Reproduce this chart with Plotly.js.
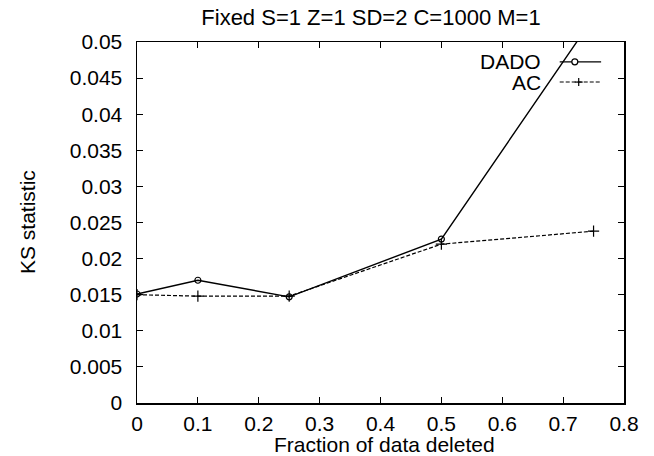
<!DOCTYPE html>
<html>
<head>
<meta charset="utf-8">
<script src="https://cdn.plot.ly/plotly-3.0.1.min.js"></script>
<style>html,body{margin:0;padding:0;background:#fff;}#chart{width:654px;height:456px;}</style>
</head>
<body>
<div id="chart"></div>
<script>
const fractions = [0, 0.1, 0.25, 0.5, 0.75];
const dadoKS = [0.0151, 0.0170, 0.0147, 0.0227, 0.0534];
const acKS = [0.0150, 0.0148, 0.0148, 0.0220, 0.0238];
const xTicks = [0, 0.1, 0.2, 0.3, 0.4, 0.5, 0.6, 0.7, 0.8];
const yTicks = [0, 0.005, 0.01, 0.015, 0.02, 0.025, 0.03, 0.035, 0.04, 0.045, 0.05];
const seriesNames = ['DADO', 'AC'];
const chartTitle = 'Fixed S=1 Z=1 SD=2 C=1000 M=1';
const xTitle = 'Fraction of data deleted';
const yTitle = 'KS statistic';

const font = 'Liberation Sans, Arial, Helvetica, sans-serif';

const traces = [
  {x: fractions, y: dadoKS, name: seriesNames[0], mode: 'lines+markers',
   line: {color: '#000', width: 1.4},
   marker: {symbol: 'circle-open', size: 6, color: '#000', line: {width: 1.2}},
   cliponaxis: true},
  {x: fractions, y: acKS, name: seriesNames[1], mode: 'lines+markers',
   line: {color: '#000', width: 1.2, dash: '4px,2px'},
   marker: {symbol: 'cross-thin-open', size: 8, color: '#000', line: {width: 1.2, color: '#000'}},
   cliponaxis: true}
];

const axisCommon = {
  showline: true, linecolor: '#000', linewidth: 1.5, mirror: 'ticks',
  ticks: 'inside', ticklen: 6, tickwidth: 1, tickcolor: '#000',
  showgrid: false, zeroline: false,
  tickfont: {family: font, size: 21, color: '#000'}
};

const layout = {
  width: 654, height: 456,
  margin: {l: 137, r: 30, t: 42, b: 53},
  paper_bgcolor: '#fff', plot_bgcolor: '#fff',
  showlegend: false,
  title: {text: chartTitle, font: {family: font, size: 22, color: '#000'},
          x: 371 / 654, xref: 'container', xanchor: 'center', y: 1 - 17 / 456, yref: 'container', yanchor: 'middle'},
  xaxis: Object.assign({}, axisCommon, {
    range: [0, 0.8], tickvals: xTicks, ticktext: xTicks.map(String), ticklabelstandoff: 1
  }),
  yaxis: Object.assign({}, axisCommon, {
    range: [0, 0.05], tickvals: yTicks, ticktext: yTicks.map(String), ticklabelstandoff: 9
  }),
  annotations: [
    {text: xTitle, xref: 'paper', yref: 'paper', x: (384 - 137) / 487, y: -(444 - 403) / 361,
     xanchor: 'center', yanchor: 'middle', showarrow: false, font: {family: font, size: 21, color: '#000'}},
    {text: yTitle, xref: 'paper', yref: 'paper', x: (27 - 137) / 487, y: (403 - 222) / 361, textangle: -90,
     xanchor: 'center', yanchor: 'middle', showarrow: false, font: {family: font, size: 21, color: '#000'}},
    {text: seriesNames[0], xref: 'paper', yref: 'paper', x: 0.834, y: 0.945, xanchor: 'right', yanchor: 'middle',
     showarrow: false, font: {family: font, size: 21, color: '#000'}},
    {text: seriesNames[1], xref: 'paper', yref: 'paper', x: 0.834, y: 0.889, xanchor: 'right', yanchor: 'middle',
     showarrow: false, font: {family: font, size: 21, color: '#000'}}
  ],
  shapes: [
    {type: 'line', xref: 'paper', yref: 'paper', x0: 0.868, x1: 0.953, y0: 0.945, y1: 0.945, line: {color: '#000', width: 1.3}},
    {type: 'circle', xref: 'paper', yref: 'paper', xsizemode: 'pixel', ysizemode: 'pixel', xanchor: 0.899, yanchor: 0.945,
     x0: -3, x1: 3, y0: -3, y1: 3, line: {color: '#000', width: 1.2}, fillcolor: '#fff'},
    {type: 'line', xref: 'paper', yref: 'paper', x0: 0.868, x1: 0.953, y0: 0.889, y1: 0.889, line: {color: '#000', width: 1.1, dash: '4px,2px'}},
    {type: 'line', xref: 'paper', yref: 'paper', xsizemode: 'pixel', ysizemode: 'pixel', xanchor: 0.907, yanchor: 0.889,
     x0: -4, x1: 4, y0: 0, y1: 0, line: {color: '#000', width: 1.2}},
    {type: 'line', xref: 'paper', yref: 'paper', xsizemode: 'pixel', ysizemode: 'pixel', xanchor: 0.907, yanchor: 0.889,
     x0: 0, x1: 0, y0: -4, y1: 4, line: {color: '#000', width: 1.2}}
  ]
};

Plotly.newPlot('chart', traces, layout, {staticPlot: true, displayModeBar: false});
</script>
</body>
</html>
